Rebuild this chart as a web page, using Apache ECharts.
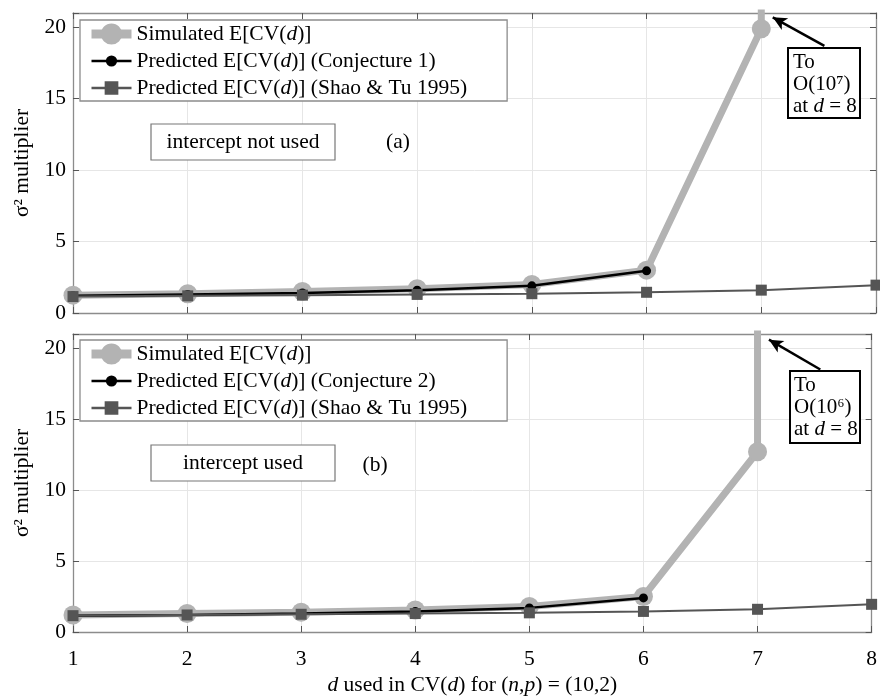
<!DOCTYPE html>
<html><head><meta charset="utf-8">
<script src="https://cdn.jsdelivr.net/npm/echarts@6/dist/echarts.min.js"></script>
<style>html,body{margin:0;padding:0;background:#fff}#c{width:880px;height:697px}</style>
</head><body><div id="c"></div>
<script>
var dValues = [1,2,3,4,5,6,7,8];
var simTop = [1.25,1.35,1.5,1.7,2.0,3.0,19.9,1e7];
var conj1 = [1.2,1.3,1.4,1.6,1.9,2.95];
var shaoTop = [1.15,1.2,1.25,1.3,1.35,1.45,1.6,1.95];
var simBot = [1.2,1.3,1.4,1.55,1.8,2.5,12.7,1e6];
var conj2 = [1.15,1.2,1.3,1.45,1.7,2.4];
var shaoBot = [1.15,1.2,1.25,1.3,1.35,1.45,1.6,1.95];
var yTicks = [0,5,10,15,20];

function pairs(v){return v.map(function(y,i){return [dValues[i],y];});}
var FONT='Liberation Serif';
var FS=21.5;
var rich={r:{fontFamily:FONT,fontSize:FS,lineHeight:22,color:'#000'},i:{fontFamily:FONT,fontSize:FS,lineHeight:22,fontStyle:'italic',color:'#000'}};
function fmtLegend(n){
  var parts=n.split('d)');
  return '{r|'+parts[0]+'}{i|d}{r|)'+parts[1]+'}';
}
var N_SIM='Simulated E[CV(d)]', N_C1='Predicted E[CV(d)] (Conjecture 1)', N_C2='Predicted E[CV(d)] (Conjecture 2)', N_SH='Predicted E[CV(d)] (Shao & Tu 1995)';

var axCol='#8c8c8c';
function xAx(g,pos,labels){
  return {type:'value',gridIndex:g,position:pos,min:1,max:8,interval:1,
    axisLine:{show:true,onZero:false,lineStyle:{color:axCol,width:1.3}},
    axisTick:{show:true,inside:true,length:6,lineStyle:{color:'#555'}},
    axisLabel:{show:labels,color:'#000',fontFamily:FONT,fontSize:FS,margin:16},
    splitLine:{show:pos==='bottom',lineStyle:{color:'#e6e6e6'}}};
}
function yAx(g,pos,labels){
  return {type:'value',gridIndex:g,position:pos,min:0,max:21,interval:5,
    axisLine:{show:true,onZero:false,lineStyle:{color:axCol,width:1.3}},
    axisTick:{show:true,inside:true,length:6,lineStyle:{color:'#555'}},
    axisLabel:{show:labels,color:'#000',fontFamily:FONT,fontSize:FS,margin:7,
      formatter:function(v){return yTicks.indexOf(v)>=0?String(v):'';}},
    splitLine:{show:pos==='left',lineStyle:{color:'#e6e6e6'}},
    name:labels?'σ² multiplier':'',nameLocation:'middle',nameGap:36,
    nameTextStyle:{fontFamily:FONT,fontSize:FS,color:'#000'}};
}
var xAxes=[xAx(0,'bottom',false),xAx(0,'top',false),xAx(1,'bottom',true),xAx(1,'top',false)];
xAxes[2].name='{i|d}{r| used in CV(}{i|d}{r|) for (}{i|n}{r|,}{i|p}{r|) = (10,2)}';
xAxes[2].nameLocation='middle';xAxes[2].nameGap=42;
xAxes[2].nameTextStyle={rich:rich};
var yAxes=[yAx(0,'left',true),yAx(0,'right',false),yAx(1,'left',true),yAx(1,'right',false)];

function simSeries(data,xi,yi){
  return {name:N_SIM,type:'line',xAxisIndex:xi,yAxisIndex:yi,data:pairs(data),clip:true,
    symbol:'circle',symbolSize:19,lineStyle:{color:'#b3b3b3',width:7},itemStyle:{color:'#b3b3b3'},z:2};
}
function conjSeries(name,data,xi,yi){
  return {name:name,type:'line',xAxisIndex:xi,yAxisIndex:yi,data:pairs(data),
    symbol:'circle',symbolSize:9,lineStyle:{color:'#000',width:2.5},itemStyle:{color:'#000'},z:3};
}
function shaoSeries(data,xi,yi,arrow){
  var s={name:N_SH,type:'line',xAxisIndex:xi,yAxisIndex:yi,data:pairs(data),
    symbol:'rect',symbolSize:11,lineStyle:{color:'#555',width:2},itemStyle:{color:'#555'},z:4};
  s.markLine={silent:true,symbol:['none','arrow'],symbolSize:[10,14],animation:false,
    lineStyle:{color:'#000',width:2.5,type:'solid'},label:{show:false},
    data:[[{coord:arrow[0]},{coord:arrow[1]}]]};
  return s;
}
function legendData(conjName){
  return [
    {name:N_SIM,itemStyle:{borderColor:'#b3b3b3',borderWidth:10},lineStyle:{width:9,color:'#b3b3b3'}},
    {name:conjName,itemStyle:{borderWidth:0},lineStyle:{width:2.5,color:'#000'}},
    {name:N_SH,itemStyle:{borderColor:'#555',borderWidth:2.5},lineStyle:{width:2.5,color:'#555'}}
  ];
}
var legendBase={orient:'vertical',left:80,itemWidth:40,itemHeight:14,itemGap:5,
  backgroundColor:'#fff',borderColor:'#8c8c8c',borderWidth:1.3,padding:[3,40,2,7],
  formatter:fmtLegend,textStyle:{rich:rich},selectedMode:false};

var boxRich={r:{fontFamily:FONT,fontSize:21,lineHeight:22,fill:'#000'},i:{fontFamily:FONT,fontSize:21,fontStyle:'italic',lineHeight:22,fill:'#000'}};
var option={
  animation:false,
  grid:[{left:73,right:4,top:13,height:300},{left:73,right:4,top:334,height:301}],
  xAxis:xAxes,yAxis:yAxes,
  legend:[
    Object.assign({},legendBase,{top:20,data:legendData(N_C1)}),
    Object.assign({},legendBase,{top:340,data:legendData(N_C2)})
  ],
  series:[
    simSeries(simTop,0,0),conjSeries(N_C1,conj1,0,0),shaoSeries(shaoTop,0,0,[[7.55,18.7],[7.1,20.7]]),
    simSeries(simBot,2,2),conjSeries(N_C2,conj2,2,2),shaoSeries(shaoBot,2,2,[[7.55,18.5],[7.1,20.6]])
  ],
  graphic:[
    {type:'rect',z:100,shape:{x:151,y:124,width:184,height:36},style:{fill:'#fff',stroke:'#777',lineWidth:1.2}},
    {type:'text',z:101,x:243,y:142,style:{text:'intercept not used',fontFamily:FONT,fontSize:FS,fill:'#000',align:'center',verticalAlign:'middle'}},
    {type:'text',z:101,x:398,y:142,style:{text:'(a)',fontFamily:FONT,fontSize:FS,fill:'#000',align:'center',verticalAlign:'middle'}},
    {type:'rect',z:100,shape:{x:151,y:445,width:184,height:36},style:{fill:'#fff',stroke:'#777',lineWidth:1.2}},
    {type:'text',z:101,x:243,y:463,style:{text:'intercept used',fontFamily:FONT,fontSize:FS,fill:'#000',align:'center',verticalAlign:'middle'}},
    {type:'text',z:101,x:375,y:465,style:{text:'(b)',fontFamily:FONT,fontSize:FS,fill:'#000',align:'center',verticalAlign:'middle'}},
    {type:'rect',z:100,shape:{x:788,y:48,width:72,height:70},style:{fill:'#fff',stroke:'#000',lineWidth:2}},
    {type:'text',z:101,x:793,y:51,style:{text:'{r|To}\n{r|O(10⁷)}\n{r|at }{i|d}{r| = 8}',verticalAlign:'top',align:'left',rich:boxRich}},
    {type:'rect',z:100,shape:{x:790,y:371,width:70,height:72},style:{fill:'#fff',stroke:'#000',lineWidth:2}},
    {type:'text',z:101,x:794,y:374,style:{text:'{r|To}\n{r|O(10⁶)}\n{r|at }{i|d}{r| = 8}',verticalAlign:'top',align:'left',rich:boxRich}}
  ]
};
var chart=echarts.init(document.getElementById('c'),null,{renderer:'canvas'});
chart.setOption(option);
</script></body></html>
